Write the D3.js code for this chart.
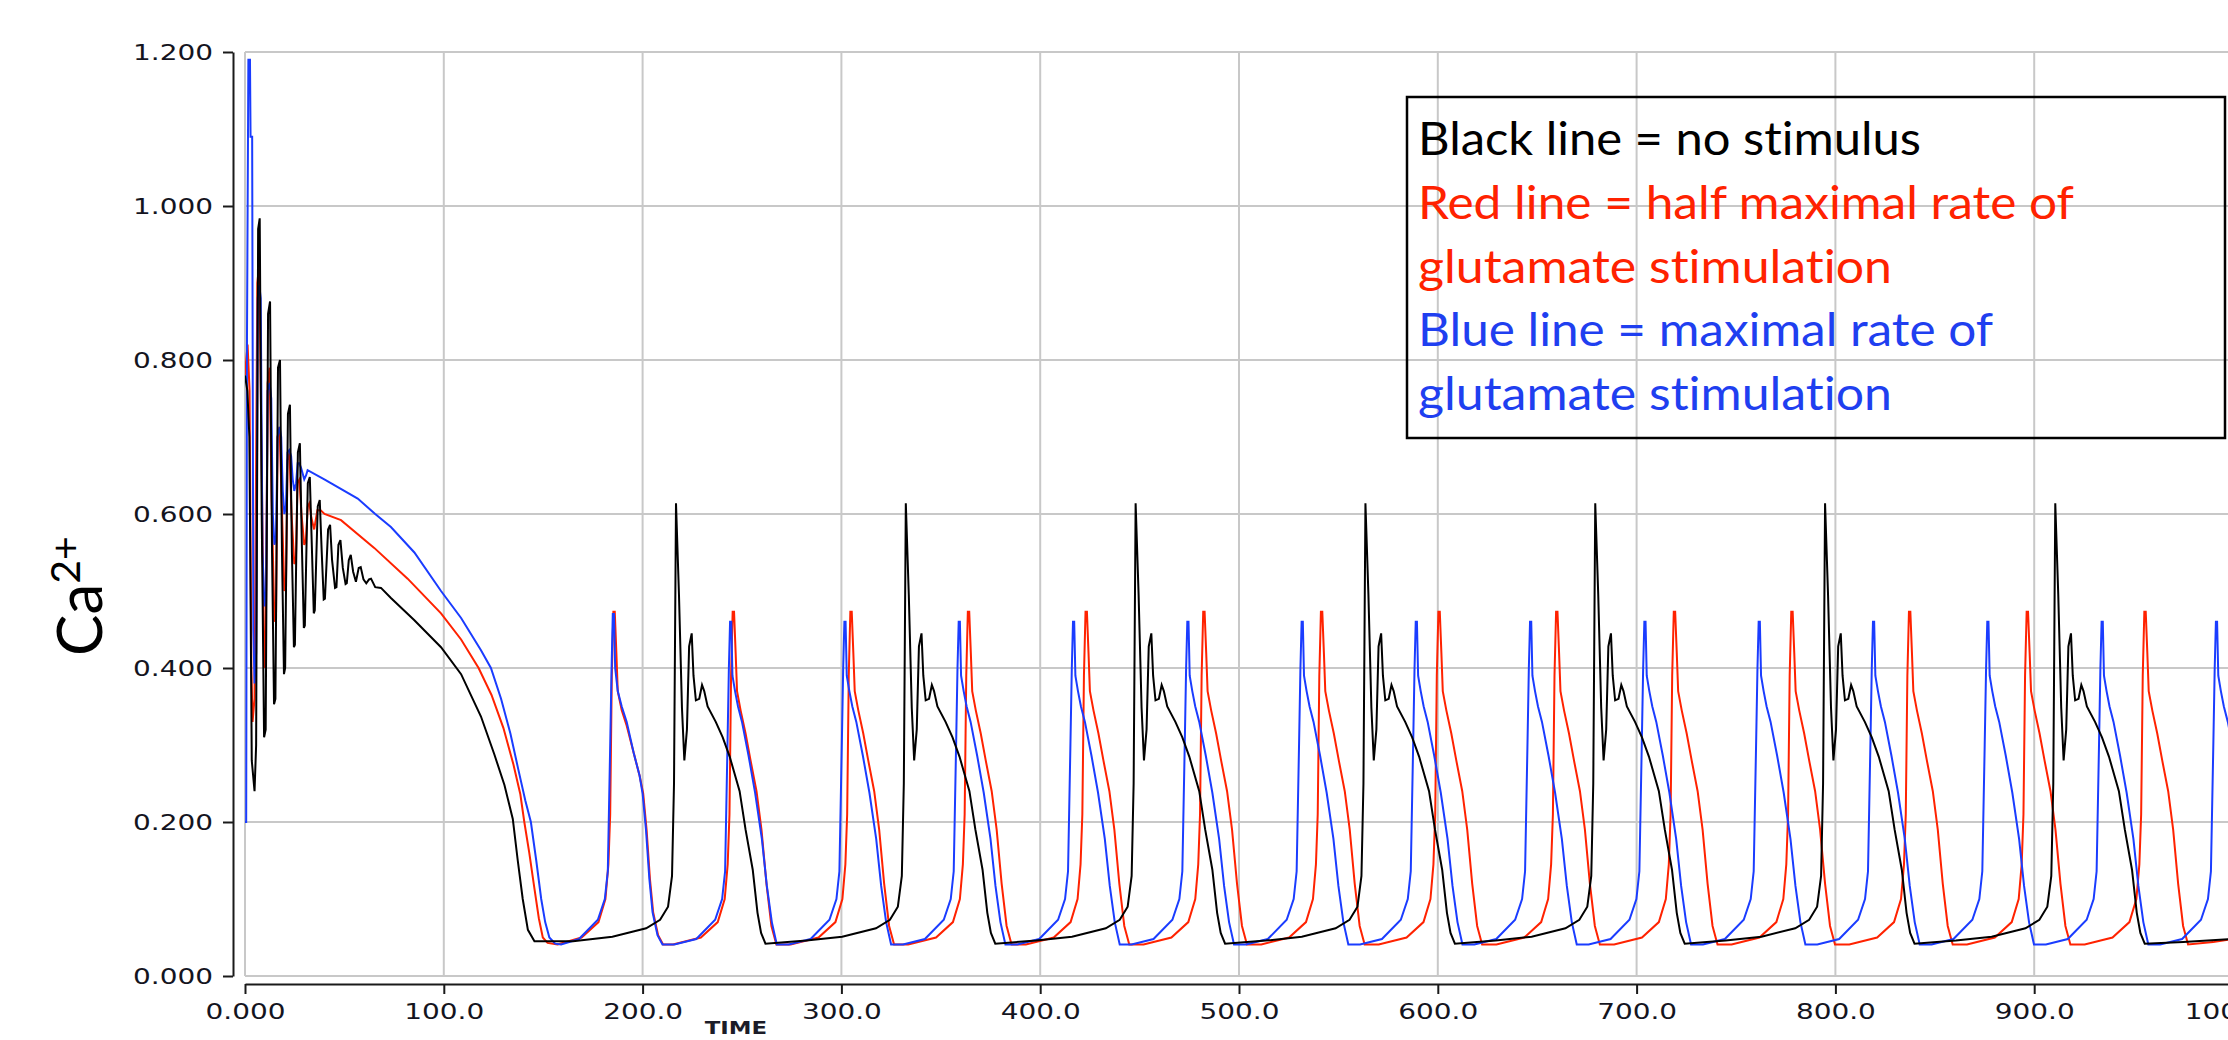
<!DOCTYPE html>
<meta charset="utf-8">
<script src="https://d3js.org/d3.v7.min.js"></script>
<style>
  body { margin: 0; background: #fff; }
  .tick text { font-family: "DejaVu Sans", sans-serif; font-size: 22px; fill: #14141e; }
</style>
<body>
<script>

// ---- data (time, Ca2+) ----
var xTicks = [0, 100, 200, 300, 400, 500, 600, 700, 800, 900, 1000];
var yTicks = [0, 0.2, 0.4, 0.6, 0.8, 1.0, 1.2];

var legendText = ["Black line = no stimulus",
                  "Red line = half maximal rate of",
                  "glutamate stimulation",
                  "Blue line = maximal rate of",
                  "glutamate stimulation"];

// no stimulus
var blackCa = [
  [0,.78],[1.2,.76],[2.2,.70],[3.4,.28],[4.8,.24],[5.6,.30],[6.6,.97],[7.4,.984],[8.4,.60],[9.6,.31],
  [10.4,.32],[11.6,.86],[12.6,.876],[13.6,.55],[14.6,.353],[15.3,.36],[16.6,.79],[17.6,.80],[18.6,.55],[19.6,.392],
  [20.2,.40],[21.6,.73],[22.6,.742],[23.6,.55],[24.6,.427],[25.1,.43],[26.6,.68],[27.6,.692],[28.6,.56],[29.6,.452],
  [30.1,.455],[31.6,.64],[32.6,.648],[33.6,.56],[34.6,.471],[35.1,.475],[36.6,.61],[37.6,.618],[38.6,.55],[39.6,.489],
  [40.2,.49],[41.8,.58],[42.8,.586],[43.8,.54],[45.3,.504],[46,.505],[47,.56],[48,.566],[49.2,.53],[50.6,.509],
  [51.2,.51],[52.2,.54],[53.2,.547],[54.4,.525],[55.8,.512],[57.2,.53],[58.2,.531],[59.6,.515],[61,.51],[62.4,.515],
  [63.4,.516],[65.5,.505],[68.4,.504],[73.4,.491],[85.2,.462],[98.6,.427],[108.7,.392],[118.7,.337],[125.4,.288],
  [130.5,.248],[134.7,.204],[137.2,.15],[139.7,.10],[142.3,.06],[145.6,.045],[165,.045],
  [184.8,.051],[201.8,.062],[208.8,.073],[212.8,.09],[214.8,.13],[215.8,.25],[216.8,.614],[218.3,.495],[219.8,.348],[221.0,.28],[222.3,.32],[223.4,.428],[224.7,.445],[225.6,.39],[226.8,.358],[228.5,.36],[229.9,.378],[231.0,.37],[232.7,.35],[236.8,.33],[240.3,.31],[243.8,.285],[248.8,.24],[251.8,.19],[255.4,.138],[257.8,.082],[259.6,.056],[261.8,.042],
  [282.4,.046],[300.4,.051],[317.4,.062],[324.4,.073],[328.4,.09],[330.4,.13],[331.4,.25],[332.4,.614],[333.9,.495],[335.4,.348],[336.6,.28],[337.9,.32],[339.0,.428],[340.3,.445],[341.2,.39],[342.4,.358],[344.1,.36],[345.5,.378],[346.6,.37],[348.3,.35],[352.4,.33],[355.9,.31],[359.4,.285],[364.4,.24],[367.4,.19],[371.0,.138],[373.4,.082],[375.2,.056],[377.4,.042],
  [398.0,.046],[416.0,.051],[433.0,.062],[440.0,.073],[444.0,.09],[446.0,.13],[447.0,.25],[448.0,.614],[449.5,.495],[451.0,.348],[452.2,.28],[453.5,.32],[454.6,.428],[455.9,.445],[456.8,.39],[458.0,.358],[459.7,.36],[461.1,.378],[462.2,.37],[463.9,.35],[468.0,.33],[471.5,.31],[475.0,.285],[480.0,.24],[483.0,.19],[486.6,.138],[489.0,.082],[490.8,.056],[493.0,.042],
  [513.6,.046],[531.6,.051],[548.6,.062],[555.6,.073],[559.6,.09],[561.6,.13],[562.6,.25],[563.6,.614],[565.1,.495],[566.6,.348],[567.8,.28],[569.1,.32],[570.2,.428],[571.5,.445],[572.4,.39],[573.6,.358],[575.3,.36],[576.7,.378],[577.8,.37],[579.5,.35],[583.6,.33],[587.1,.31],[590.6,.285],[595.6,.24],[598.6,.19],[602.2,.138],[604.6,.082],[606.4,.056],[608.6,.042],
  [629.2,.046],[647.2,.051],[664.2,.062],[671.2,.073],[675.2,.09],[677.2,.13],[678.2,.25],[679.2,.614],[680.7,.495],[682.2,.348],[683.4,.28],[684.7,.32],[685.8,.428],[687.1,.445],[688.0,.39],[689.2,.358],[690.9,.36],[692.3,.378],[693.4,.37],[695.1,.35],[699.2,.33],[702.7,.31],[706.2,.285],[711.2,.24],[714.2,.19],[717.8,.138],[720.2,.082],[722.0,.056],[724.2,.042],
  [744.8,.046],[762.8,.051],[779.8,.062],[786.8,.073],[790.8,.09],[792.8,.13],[793.8,.25],[794.8,.614],[796.3,.495],[797.8,.348],[799.0,.28],[800.3,.32],[801.4,.428],[802.7,.445],[803.6,.39],[804.8,.358],[806.5,.36],[807.9,.378],[809.0,.37],[810.7,.35],[814.8,.33],[818.3,.31],[821.8,.285],[826.8,.24],[829.8,.19],[833.4,.138],[835.8,.082],[837.6,.056],[839.8,.042],
  [860.6,.046],[878.6,.051],[895.6,.062],[902.6,.073],[906.6,.09],[908.6,.13],[909.6,.25],[910.6,.614],[912.1,.495],[913.6,.348],[914.8,.28],[916.1,.32],[917.2,.428],[918.5,.445],[919.4,.39],[920.6,.358],[922.3,.36],[923.7,.378],[924.8,.37],[926.5,.35],[930.6,.33],[934.1,.31],[937.6,.285],[942.6,.24],[945.6,.19],[949.2,.138],[951.6,.082],[953.4,.056],[955.6,.042],
  [975,.044],[1000,.048]
];

// half maximal glutamate stimulation
var redCa = [
  [0,.78],[0.6,.80],[1.3,.82],[2.3,.76],[3.2,.40],[3.8,.33],[4.8,.36],[6.2,.90],[7.2,.926],[8.2,.70],[9.7,.40],
  [10.4,.42],[11.4,.77],[12.4,.79],[13.4,.62],[14.8,.46],[15.6,.47],[16.4,.70],[17.4,.713],[18.4,.62],[19.8,.50],
  [20.6,.51],[21.4,.67],[22.4,.68],[23.4,.60],[24.8,.535],[25.6,.54],[26.4,.64],[27.4,.645],[28.4,.60],[29.8,.56],
  [30.6,.565],[31.6,.61],[32.4,.614],[33.4,.595],[34.8,.58],[36.4,.605],[38,.605],[40,.60],[48.3,.592],[65,.556],
  [81.8,.516],[98.6,.471],[108.7,.437],[117.5,.40],[124,.365],[130,.322],[135,.275],[138.5,.236],[140.5,.20],[143,.16],[145.5,.115],[147.8,.075],[149.8,.05],[152.2,.043],[157.2,.041],
  [169.3,.05],[177.8,.07],[181.3,.10],[182.8,.145],[183.7,.21],[184.5,.39],[185.3,.473],[186.0,.473],[186.8,.42],[187.5,.37],[189.5,.345],[192.0,.325],[195.5,.29],[198.5,.26],[200.3,.237],[202.0,.19],[203.7,.126],[205.3,.083],[207.8,.053],[210.3,.041],
  [215.3,.041],[229.3,.05],[237.8,.07],[241.3,.10],[242.8,.145],[243.7,.21],[244.5,.39],[245.3,.473],[246.0,.473],[246.8,.42],[247.5,.37],[249.3,.345],[251.8,.315],[254.3,.28],[257.3,.24],[259.8,.19],[262.3,.12],[264.8,.065],[267.3,.041],
  [274.5,.041],[288.5,.05],[297.0,.07],[300.5,.10],[302.0,.145],[302.9,.21],[303.7,.39],[304.5,.473],[305.2,.473],[306.0,.42],[306.7,.37],[308.5,.345],[311.0,.315],[313.5,.28],[316.5,.24],[319.0,.19],[321.5,.12],[324.0,.065],[326.5,.041],
  [333.6,.041],[347.6,.05],[356.1,.07],[359.6,.10],[361.1,.145],[362.0,.21],[362.8,.39],[363.6,.473],[364.3,.473],[365.1,.42],[365.8,.37],[367.6,.345],[370.1,.315],[372.6,.28],[375.6,.24],[378.1,.19],[380.6,.12],[383.1,.065],[385.6,.041],
  [392.8,.041],[406.8,.05],[415.3,.07],[418.8,.10],[420.3,.145],[421.2,.21],[422.0,.39],[422.8,.473],[423.5,.473],[424.3,.42],[425.0,.37],[426.8,.345],[429.3,.315],[431.8,.28],[434.8,.24],[437.3,.19],[439.8,.12],[442.3,.065],[444.8,.041],
  [452.0,.041],[466.0,.05],[474.5,.07],[478.0,.10],[479.5,.145],[480.4,.21],[481.2,.39],[482.0,.473],[482.7,.473],[483.5,.42],[484.2,.37],[486.0,.345],[488.5,.315],[491.0,.28],[494.0,.24],[496.5,.19],[499.0,.12],[501.5,.065],[504.0,.041],
  [511.2,.041],[525.2,.05],[533.7,.07],[537.2,.10],[538.7,.145],[539.6,.21],[540.4,.39],[541.2,.473],[541.9,.473],[542.7,.42],[543.4,.37],[545.2,.345],[547.7,.315],[550.2,.28],[553.2,.24],[555.7,.19],[558.2,.12],[560.7,.065],[563.2,.041],
  [570.3,.041],[584.3,.05],[592.8,.07],[596.3,.10],[597.8,.145],[598.7,.21],[599.5,.39],[600.3,.473],[601.0,.473],[601.8,.42],[602.5,.37],[604.3,.345],[606.8,.315],[609.3,.28],[612.3,.24],[614.8,.19],[617.3,.12],[619.8,.065],[622.3,.041],
  [629.5,.041],[643.5,.05],[652.0,.07],[655.5,.10],[657.0,.145],[657.9,.21],[658.7,.39],[659.5,.473],[660.2,.473],[661.0,.42],[661.7,.37],[663.5,.345],[666.0,.315],[668.5,.28],[671.5,.24],[674.0,.19],[676.5,.12],[679.0,.065],[681.5,.041],
  [688.7,.041],[702.7,.05],[711.2,.07],[714.7,.10],[716.2,.145],[717.1,.21],[717.9,.39],[718.7,.473],[719.4,.473],[720.2,.42],[720.9,.37],[722.7,.345],[725.2,.315],[727.7,.28],[730.7,.24],[733.2,.19],[735.7,.12],[738.2,.065],[740.7,.041],
  [747.8,.041],[761.8,.05],[770.3,.07],[773.8,.10],[775.3,.145],[776.2,.21],[777.0,.39],[777.8,.473],[778.5,.473],[779.3,.42],[780.0,.37],[781.8,.345],[784.3,.315],[786.8,.28],[789.8,.24],[792.3,.19],[794.8,.12],[797.3,.065],[799.8,.041],
  [807.0,.041],[821.0,.05],[829.5,.07],[833.0,.10],[834.5,.145],[835.4,.21],[836.2,.39],[837.0,.473],[837.7,.473],[838.5,.42],[839.2,.37],[841.0,.345],[843.5,.315],[846.0,.28],[849.0,.24],[851.5,.19],[854.0,.12],[856.5,.065],[859.0,.041],
  [866.2,.041],[880.2,.05],[888.7,.07],[892.2,.10],[893.7,.145],[894.6,.21],[895.4,.39],[896.2,.473],[896.9,.473],[897.7,.42],[898.4,.37],[900.2,.345],[902.7,.315],[905.2,.28],[908.2,.24],[910.7,.19],[913.2,.12],[915.7,.065],[918.2,.041],
  [925.4,.041],[939.4,.05],[947.9,.07],[951.4,.10],[952.9,.145],[953.8,.21],[954.6,.39],[955.4,.473],[956.1,.473],[956.9,.42],[957.6,.37],[959.4,.345],[961.9,.315],[964.4,.28],[967.4,.24],[969.9,.19],[972.4,.12],[974.9,.065],[977.4,.041],
  [990,.044],[1000,.048]
];

// maximal glutamate stimulation
var blueCa = [
  [0,.20],[0.6,.20],[1.0,.83],[1.7,1.19],[2.5,1.19],[2.8,1.09],[3.6,1.09],[4.2,.45],[4.8,.38],[5.6,.42],[6.4,.88],[7.2,.897],[7.9,.88],[8.8,.55],[9.8,.48],
  [10.6,.50],[11.4,.76],[12.4,.77],[13.2,.75],[14,.60],[14.8,.56],[15.6,.57],[16.4,.70],[17.4,.713],[18.2,.70],[19,.63],[19.8,.60],
  [20.6,.61],[21.4,.68],[22.3,.683],[23.2,.675],[24,.645],[24.8,.63],[25.7,.64],[26.5,.666],[27.3,.666],[28.2,.66],[29.8,.645],
  [30.7,.65],[31.5,.657],[39.9,.645],[56.7,.62],[65.5,.60],[73.4,.583],[85.2,.55],[98.6,.50],[108.7,.465],[118.7,.423],
  [123.7,.40],[128.8,.36],[133.5,.315],[137.5,.268],[141,.228],[143.8,.20],[146.5,.15],[149,.10],[151,.07],[153.1,.05],[156,.042],[159,.041],
  [168.0,.048],[177.5,.073],[181.0,.10],[182.5,.136],[183.7,.30],[184.4,.40],[185.0,.47],[185.6,.47],[186.2,.40],[187.5,.37],[189.5,.35],[192.0,.33],[195.5,.29],[198.5,.26],[200.0,.237],[201.7,.19],[203.4,.126],[205.0,.083],[207.5,.053],[210.0,.041],
  [216.0,.041],[227.0,.048],[236.5,.073],[240.0,.10],[241.5,.136],[242.7,.30],[243.4,.40],[244.0,.46],[244.6,.46],[245.2,.39],[246.5,.37],[248.0,.35],[250.0,.33],[253.3,.286],[256.6,.238],[260.0,.178],[262.5,.117],[265.0,.07],[267.5,.041],
  [273.5,.041],[284.5,.048],[294.0,.073],[297.5,.10],[299.0,.136],[300.2,.30],[300.9,.40],[301.5,.46],[302.1,.46],[302.7,.39],[304.0,.37],[305.5,.35],[307.5,.33],[310.8,.286],[314.1,.238],[317.5,.178],[320.0,.117],[322.5,.07],[325.0,.041],
  [331.0,.041],[342.0,.048],[351.5,.073],[355.0,.10],[356.5,.136],[357.7,.30],[358.4,.40],[359.0,.46],[359.6,.46],[360.2,.39],[361.5,.37],[363.0,.35],[365.0,.33],[368.3,.286],[371.6,.238],[375.0,.178],[377.5,.117],[380.0,.07],[382.5,.041],
  [388.5,.041],[399.5,.048],[409.0,.073],[412.5,.10],[414.0,.136],[415.2,.30],[415.9,.40],[416.5,.46],[417.1,.46],[417.7,.39],[419.0,.37],[420.5,.35],[422.5,.33],[425.8,.286],[429.1,.238],[432.5,.178],[435.0,.117],[437.5,.07],[440.0,.041],
  [446.0,.041],[457.0,.048],[466.5,.073],[470.0,.10],[471.5,.136],[472.7,.30],[473.4,.40],[474.0,.46],[474.6,.46],[475.2,.39],[476.5,.37],[478.0,.35],[480.0,.33],[483.3,.286],[486.6,.238],[490.0,.178],[492.5,.117],[495.0,.07],[497.5,.041],
  [503.5,.041],[514.5,.048],[524.0,.073],[527.5,.10],[529.0,.136],[530.2,.30],[530.9,.40],[531.5,.46],[532.1,.46],[532.7,.39],[534.0,.37],[535.5,.35],[537.5,.33],[540.8,.286],[544.1,.238],[547.5,.178],[550.0,.117],[552.5,.07],[555.0,.041],
  [560.9,.041],[571.9,.048],[581.4,.073],[584.9,.10],[586.4,.136],[587.6,.30],[588.3,.40],[588.9,.46],[589.5,.46],[590.1,.39],[591.4,.37],[592.9,.35],[594.9,.33],[598.2,.286],[601.5,.238],[604.9,.178],[607.4,.117],[609.9,.07],[612.4,.041],
  [618.4,.041],[629.4,.048],[638.9,.073],[642.4,.10],[643.9,.136],[645.1,.30],[645.8,.40],[646.4,.46],[647.0,.46],[647.6,.39],[648.9,.37],[650.4,.35],[652.4,.33],[655.7,.286],[659.0,.238],[662.4,.178],[664.9,.117],[667.4,.07],[669.9,.041],
  [675.9,.041],[686.9,.048],[696.4,.073],[699.9,.10],[701.4,.136],[702.6,.30],[703.3,.40],[703.9,.46],[704.5,.46],[705.1,.39],[706.4,.37],[707.9,.35],[709.9,.33],[713.2,.286],[716.5,.238],[719.9,.178],[722.4,.117],[724.9,.07],[727.4,.041],
  [733.4,.041],[744.4,.048],[753.9,.073],[757.4,.10],[758.9,.136],[760.1,.30],[760.8,.40],[761.4,.46],[762.0,.46],[762.6,.39],[763.9,.37],[765.4,.35],[767.4,.33],[770.7,.286],[774.0,.238],[777.4,.178],[779.9,.117],[782.4,.07],[784.9,.041],
  [790.9,.041],[801.9,.048],[811.4,.073],[814.9,.10],[816.4,.136],[817.6,.30],[818.3,.40],[818.9,.46],[819.5,.46],[820.1,.39],[821.4,.37],[822.9,.35],[824.9,.33],[828.2,.286],[831.5,.238],[834.9,.178],[837.4,.117],[839.9,.07],[842.4,.041],
  [848.4,.041],[859.4,.048],[868.9,.073],[872.4,.10],[873.9,.136],[875.1,.30],[875.8,.40],[876.4,.46],[877.0,.46],[877.6,.39],[878.9,.37],[880.4,.35],[882.4,.33],[885.7,.286],[889.0,.238],[892.4,.178],[894.9,.117],[897.4,.07],[899.9,.041],
  [905.9,.041],[916.9,.048],[926.4,.073],[929.9,.10],[931.4,.136],[932.6,.30],[933.3,.40],[933.9,.46],[934.5,.46],[935.1,.39],[936.4,.37],[937.9,.35],[939.9,.33],[943.2,.286],[946.5,.238],[949.9,.178],[952.4,.117],[954.9,.07],[957.4,.041],
  [963.4,.041],[974.4,.048],[983.9,.073],[987.4,.10],[988.9,.136],[990.1,.30],[990.8,.40],[991.4,.46],[992.0,.46],[992.6,.39],[993.9,.37],[995.4,.35],[997.4,.33],[1000.7,.286]
];

// ---- drawing ----
var width = 2228, height = 1040;
var gridColor = "#c8c8c8", axisColor = "#1a1a1a";
var stretch = 1.27; // the tick labels in the picture are drawn wide

var svg = d3.select("body").append("svg")
    .attr("width", width)
    .attr("height", height)
    .style("display", "block");

svg.append("rect").attr("width", width).attr("height", height).attr("fill", "#fff");

var x = d3.scaleLinear().domain([0, 1000]).range([245, 2233]);
var y = d3.scaleLinear().domain([0, 1.2]).range([976, 52]);

// Grid lines.
svg.append("g").selectAll("line")
    .data(xTicks)
  .enter().append("line")
    .attr("x1", function(d) { return x(d); })
    .attr("x2", function(d) { return x(d); })
    .attr("y1", y(1.2))
    .attr("y2", y(0))
    .attr("stroke", gridColor)
    .attr("stroke-width", 2);

svg.append("g").selectAll("line")
    .data(yTicks)
  .enter().append("line")
    .attr("x1", x(0))
    .attr("x2", x(1000))
    .attr("y1", function(d) { return y(d); })
    .attr("y2", function(d) { return y(d); })
    .attr("stroke", gridColor)
    .attr("stroke-width", 2);

// Y axis, offset to the left of the plot.
var yAxis = svg.append("g")
    .attr("transform", "translate(233,0)")
    .call(d3.axisLeft(y).tickValues(yTicks).tickFormat(d3.format(".3f")).tickSize(10).tickSizeOuter(0));
yAxis.select(".domain").attr("stroke", axisColor).attr("stroke-width", 2);
yAxis.selectAll(".tick line").attr("stroke", axisColor).attr("stroke-width", 2);
yAxis.selectAll(".tick text")
    .attr("x", -20 / stretch)
    .attr("transform", "scale(" + stretch + ",1)");

// X axis, a little below the plot.
var xAxis = svg.append("g")
    .attr("transform", "translate(0,984)")
    .call(d3.axisBottom(x).tickValues(xTicks)
      .tickFormat(function(d) { return d === 0 ? "0.000" : d3.format(".1f")(d); })
      .tickSize(10).tickPadding(9).tickSizeOuter(0));
xAxis.select(".domain").attr("stroke", axisColor).attr("stroke-width", 2);
xAxis.selectAll(".tick line").attr("stroke", axisColor).attr("stroke-width", 2);
xAxis.selectAll(".tick text").attr("transform", "scale(" + stretch + ",1)");

// Axis titles.
svg.append("text")
    .attr("transform", "translate(736,1034) scale(" + stretch + ",1)")
    .attr("text-anchor", "middle")
    .style("font-family", "DejaVu Sans")
    .style("font-weight", "bold")
    .style("font-size", "18px")
    .attr("fill", "#1c1c28")
    .text("TIME");

svg.append("text")
    .attr("transform", "translate(102,596) rotate(-90)")
    .attr("text-anchor", "middle")
    .style("font-family", "Lato")
    .style("font-size", "62px")
    .attr("fill", "#000")
    .text("Ca")
  .append("tspan")
    .attr("dy", -22)
    .style("font-size", "41px")
    .text("2+");

// Series lines.
svg.append("clipPath").attr("id", "plot")
  .append("rect").attr("x", 245).attr("y", 40).attr("width", 1988).attr("height", 940);

var valueline = d3.line()
    .x(function(d) { return x(d[0]); })
    .y(function(d) { return y(d[1]); });

var series = [
  {data: redCa, color: "#ff2200"},
  {data: blueCa, color: "#1a3cff"},
  {data: blackCa, color: "#000000"}
];

svg.append("g").attr("clip-path", "url(#plot)")
  .selectAll("path")
    .data(series)
  .enter().append("path")
    .attr("d", function(d) { return valueline(d.data); })
    .attr("fill", "none")
    .attr("stroke", function(d) { return d.color; })
    .attr("stroke-width", 2);

// Legend box (transparent, grid shows through).
var legendColor = ["#000000", "#ff2200", "#ff2200", "#1f3ff0", "#1f3ff0"];
var legendWidth = [503, 656, 474, 575, 474];

var legend = svg.append("g");
legend.append("rect")
    .attr("x", 1407).attr("y", 97)
    .attr("width", 818).attr("height", 341)
    .attr("fill", "none")
    .attr("stroke", "#000")
    .attr("stroke-width", 2.5);

legend.selectAll("text")
    .data(legendText)
  .enter().append("text")
    .attr("x", 1418)
    .attr("y", function(d, i) { return 155 + i * 63.8; })
    .attr("textLength", function(d, i) { return legendWidth[i]; })
    .attr("lengthAdjust", "spacingAndGlyphs")
    .style("font-family", "Lato")
    .style("font-size", "46px")
    .style("font-variant-ligatures", "none")
    .attr("fill", function(d, i) { return legendColor[i]; })
    .text(function(d) { return d; });

</script>
</body>
</html>
